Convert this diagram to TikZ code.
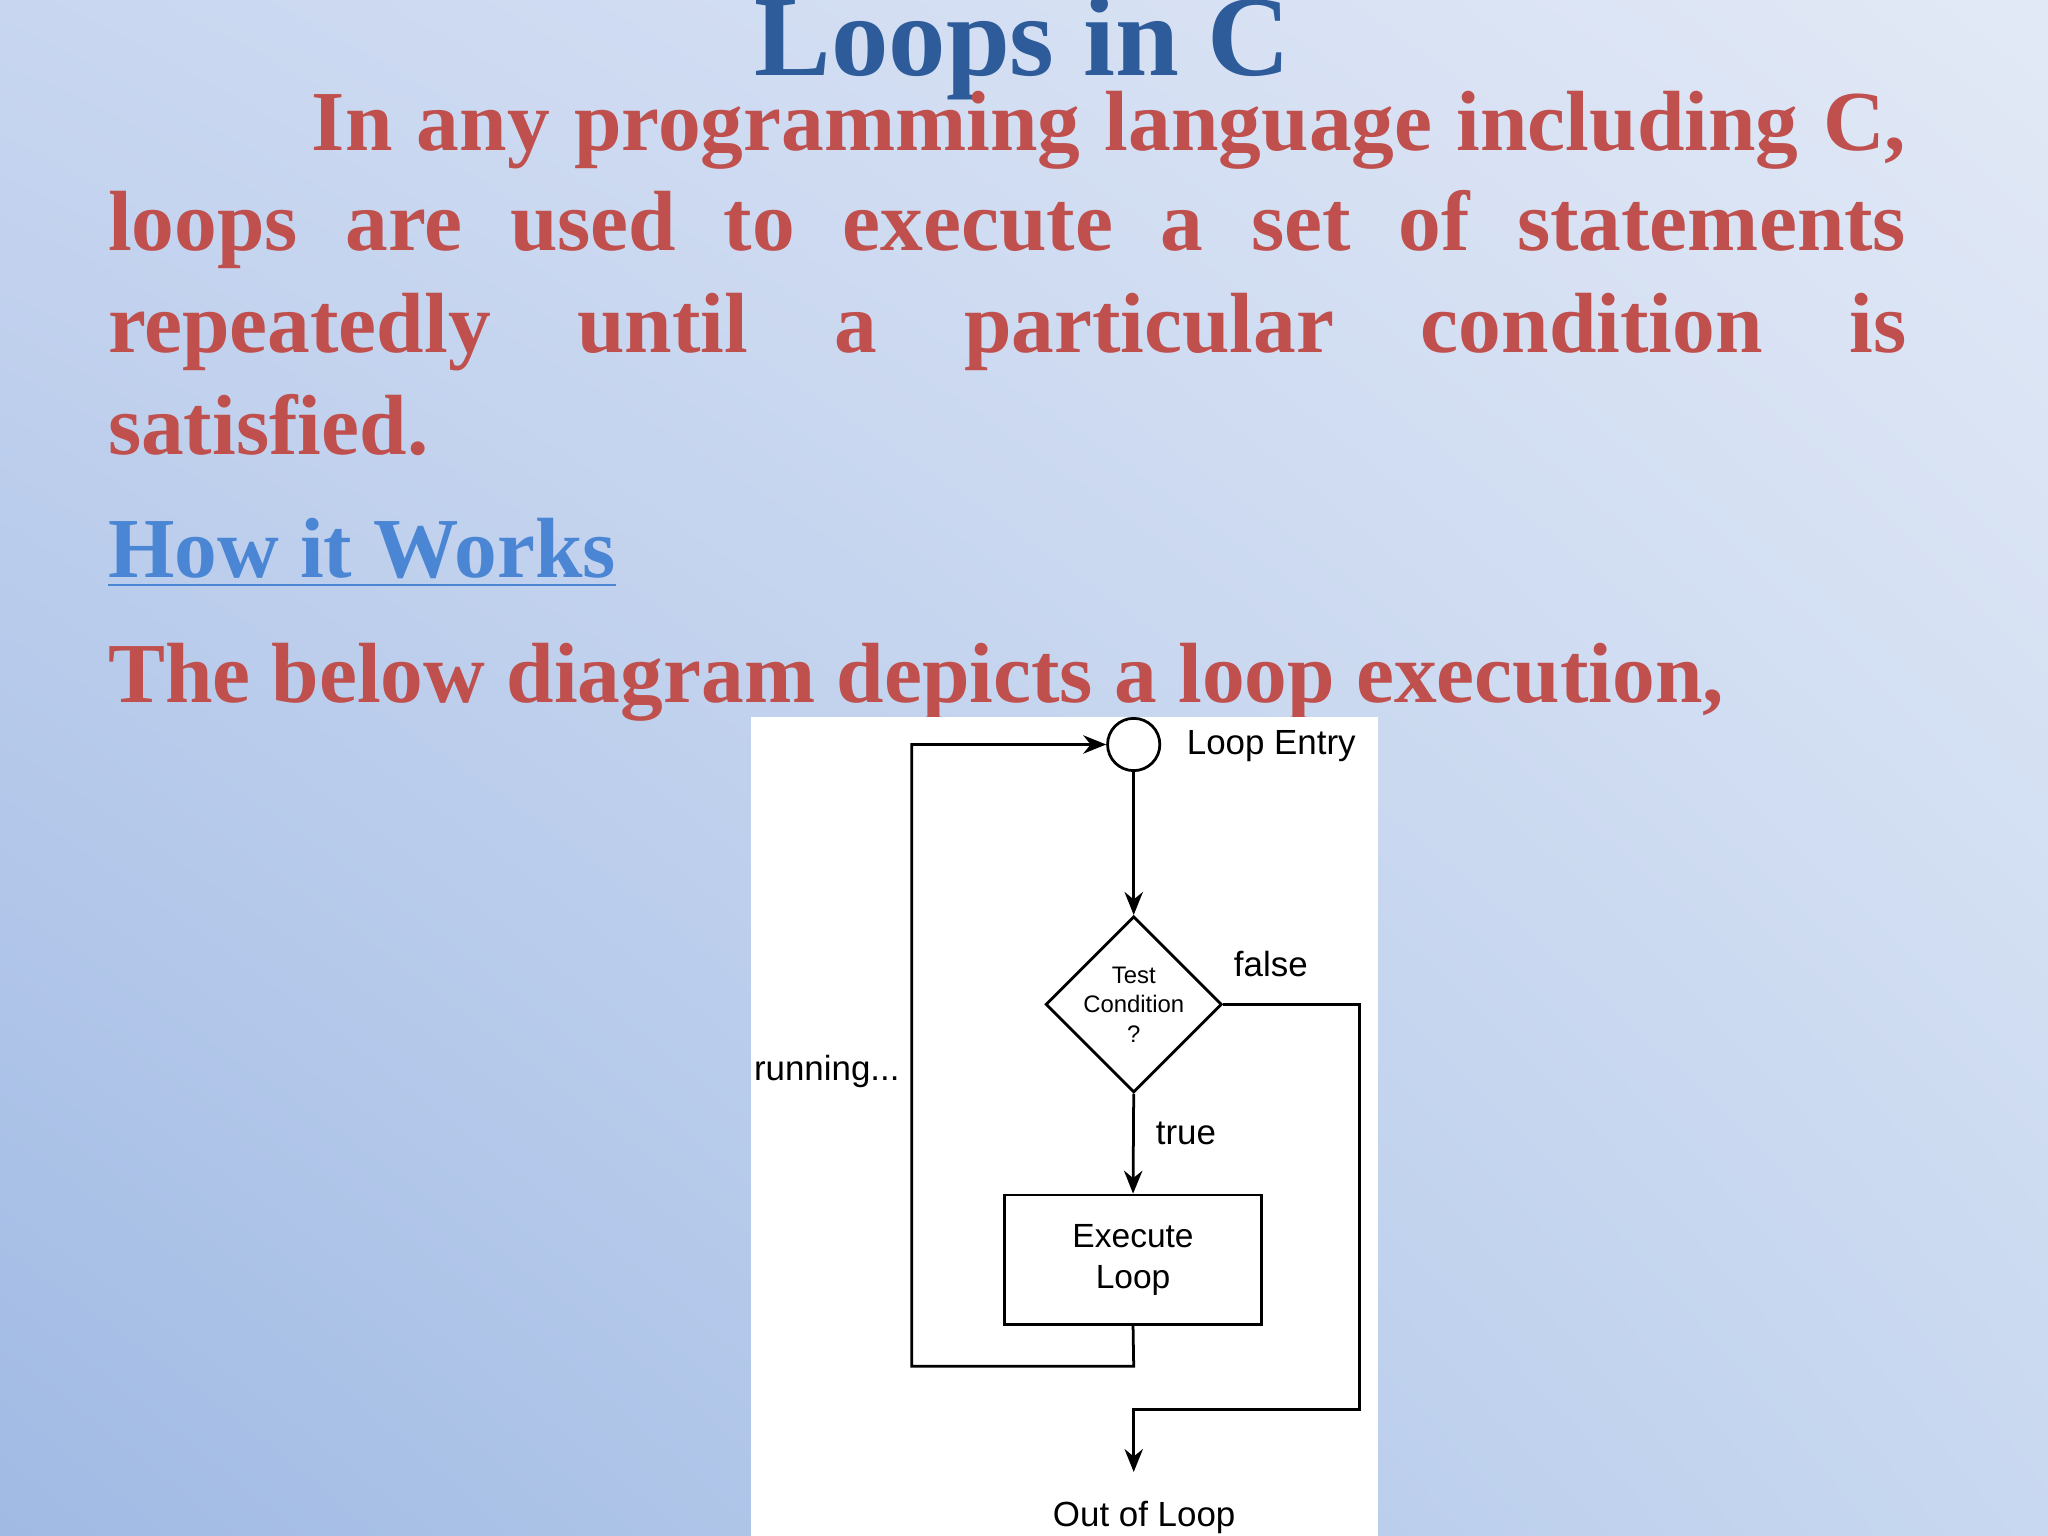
\documentclass[tikz,border=0pt]{standalone}
\usepackage{fontspec}
\setmainfont{Liberation Serif}
\newfontfamily\diag{Liberation Sans}
\usetikzlibrary{shapes.geometric,arrows.meta,shadings}
\definecolor{redt}{HTML}{C0504D}
\definecolor{titleb}{HTML}{2E5C9A}
\definecolor{linkb}{HTML}{4A86D4}
\definecolor{bgul}{RGB}{200,214,240}
\definecolor{bgur}{RGB}{226,233,246}
\definecolor{bgll}{RGB}{160,186,228}
\definecolor{bglr}{RGB}{200,216,240}
\tikzset{
 fc/.style={draw=black,line width=0.6pt},
 conn/.style={draw=black,line width=0.6pt},
 arr/.style={conn,-{Stealth[length=5pt,width=4pt]}},
 lab/.style={font=\diag\fontsize{7.6}{8}\selectfont,inner sep=0pt},
 bodyline/.style={anchor=base west,text=redt,inner sep=0pt,font=\bfseries\fontsize{18.6}{22}\selectfont},
}
\begin{document}
\begin{tikzpicture}[x=0.01cm,y=-0.01cm]
\useasboundingbox (0,0) rectangle (1568,1176);
\shade[upper left=bgul,upper right=bgur,lower left=bgll,lower right=bglr] (0,0) rectangle (1568,1176);
\node[anchor=base,text=titleb,font=\bfseries\fontsize{25}{30}\selectfont,inner sep=0pt] (title) at (783,58) {Loops in C};
\node[bodyline] (l1) at (238,115) {\makebox[12.2cm][s]{In any programming language including C,}};
\node[bodyline] (l2) at (82,192) {\makebox[13.76cm][s]{loops are used to execute a set of statements}};
\node[bodyline] (l3) at (82,270) {\makebox[13.76cm][s]{repeatedly until a particular condition is}};
\node[bodyline] (l4) at (82,348) {satisfied.};
\node[bodyline,text=linkb] (how) at (82,442) {\underline{How it Works}};
\node[bodyline] (below) at (82,538) {The below diagram depicts a loop execution,};
\fill[white] (575,549) rectangle (1055,1176);
\node[fc,circle,minimum size=0.4cm,inner sep=0pt] (entry) at (868,570) {};
\node[lab,anchor=west] (entrylab) at (908,571) {Loop Entry};
\node[fc,diamond,minimum size=1.3cm,inner sep=0pt,align=center,font=\diag\fontsize{5.2}{6.4}\selectfont] (test) at (868,769) {Test\\Condition\\?};
\node[fc,rectangle,minimum width=1.97cm,minimum height=0.99cm,align=center,font=\diag\fontsize{7.3}{9}\selectfont] (exec) at (867.5,964.5) {Execute\\Loop};
\node[lab] (falselab) at (973,738) {false};
\node[lab] (truelab) at (908,868) {true};
\node[lab] (runlab) at (633,820) {running...};
\coordinate (outend) at (868,1127);
\node[lab] (outlab) at (876,1162) {Out of Loop};
\draw[arr] (entry) -- (test.north);
\draw[arr] (test.south) -- (exec.north);
\draw[arr] (exec.south) -- (868,1046) -- (698,1046) -- (698,570) -- (entry.west);
\draw[arr] (test.east) -- (1041,769) -- (1041,1079) -- (868,1079) -- (outend);
\end{tikzpicture}
\end{document}
